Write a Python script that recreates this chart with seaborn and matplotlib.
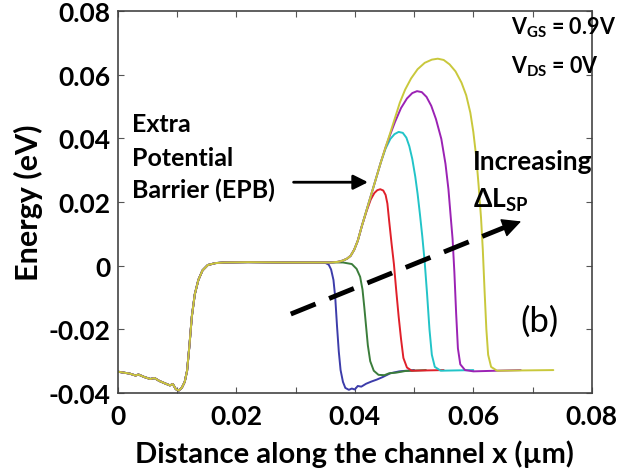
import matplotlib
matplotlib.use("Agg")
import matplotlib.pyplot as plt
import numpy as np
import pandas as pd
import seaborn as sns

# shared source side (x in um, energy in eV)
left_x = [0.0, 0.0010, 0.0020, 0.0030, 0.0035, 0.0045, 0.0055, 0.0062, 0.0070, 0.0080,
          0.0088, 0.0093, 0.0098, 0.0103, 0.0108, 0.0113, 0.0117, 0.0121, 0.0125, 0.0130,
          0.0136, 0.0143, 0.0152, 0.0165, 0.0180, 0.0220, 0.0280, 0.0330]
left_y = [-0.0333, -0.0336, -0.0339, -0.0345, -0.0342, -0.0350, -0.0356, -0.0353, -0.0362, -0.0370,
          -0.0376, -0.0372, -0.0388, -0.0392, -0.0384, -0.0365, -0.0330, -0.0250, -0.0160, -0.0090,
          -0.0045, -0.0015, 0.0002, 0.0008, 0.0010, 0.0011, 0.0010, 0.0010]

# rising edge shared by the barrier curves
rise_x = [0.0360, 0.0372, 0.0380, 0.0387, 0.0393, 0.0399, 0.0405, 0.0412]
rise_y = [0.0010, 0.0012, 0.0016, 0.0022, 0.0031, 0.0050, 0.0078, 0.0125]

blue_x = [0.0350, 0.0356, 0.0360, 0.0364, 0.0367, 0.0370, 0.0373, 0.0376, 0.0380, 0.0384,
          0.0390, 0.0395, 0.0400, 0.0405, 0.0411, 0.0419, 0.0428, 0.0437, 0.0447, 0.0460,
          0.0475, 0.0500]
blue_y = [0.0009, 0.0003, -0.0012, -0.0045, -0.0100, -0.0190, -0.0270, -0.0328, -0.0365, -0.0384,
          -0.0390, -0.0386, -0.0389, -0.0378, -0.0380, -0.0371, -0.0364, -0.0358, -0.0350, -0.0338,
          -0.0332, -0.0328]

green_x = [0.0380, 0.0395, 0.0403, 0.0409, 0.0413, 0.0416, 0.0419, 0.0422, 0.0426, 0.0432,
           0.0440, 0.0450, 0.0458, 0.0470, 0.0485, 0.0520]
green_y = [0.0010, 0.0005, -0.0010, -0.0035, -0.0075, -0.0130, -0.0190, -0.0250, -0.0300, -0.0330,
           -0.0343, -0.0344, -0.0338, -0.0336, -0.0331, -0.0328]

red_x = [0.0420, 0.0427, 0.0433, 0.0438, 0.0443, 0.0448, 0.0452, 0.0455, 0.0458, 0.0462,
         0.0466, 0.0470, 0.0474, 0.0478, 0.0482, 0.0488, 0.0496, 0.0550]
red_y = [0.0172, 0.0208, 0.0228, 0.0237, 0.0240, 0.0236, 0.0222, 0.0195, 0.0140, 0.0070,
         0.0005, -0.0080, -0.0160, -0.0230, -0.0290, -0.0320, -0.0330, -0.0328]

cyan_x = [0.0420, 0.0428, 0.0436, 0.0444, 0.0452, 0.0460, 0.0467, 0.0474, 0.0481, 0.0487,
          0.0492, 0.0497, 0.0502, 0.0506, 0.0510, 0.0514, 0.0518, 0.0522, 0.0526, 0.0530,
          0.0535, 0.0545, 0.0600]
cyan_y = [0.0175, 0.0225, 0.0275, 0.0325, 0.0368, 0.0398, 0.0413, 0.0420, 0.0417, 0.0402,
          0.0375, 0.0335, 0.0280, 0.0225, 0.0160, 0.0090, 0.0010, -0.0090, -0.0200, -0.0280,
          -0.0318, -0.0330, -0.0328]

magenta_x = [0.0420, 0.0428, 0.0436, 0.0444, 0.0452, 0.0460, 0.0468, 0.0478, 0.0488, 0.0497,
             0.0505, 0.0513, 0.0521, 0.0529, 0.0537, 0.0546, 0.0553, 0.0558, 0.0562, 0.0565,
             0.0568, 0.0571, 0.0574, 0.0578, 0.0586, 0.0600, 0.0680]
magenta_y = [0.0175, 0.0225, 0.0275, 0.0325, 0.0372, 0.0413, 0.0452, 0.0495, 0.0525, 0.0542,
             0.0548, 0.0545, 0.0530, 0.0502, 0.0460, 0.0398, 0.0320, 0.0240, 0.0150, 0.0084,
             -0.0020, -0.0150, -0.0260, -0.0310, -0.0328, -0.0332, -0.0328]

yellow_x = [0.0420, 0.0428, 0.0436, 0.0444, 0.0452, 0.0460, 0.0468, 0.0476, 0.0485, 0.0495,
            0.0506, 0.0518, 0.0530, 0.0540, 0.0550, 0.0560, 0.0570, 0.0580, 0.0588, 0.0595,
            0.0600, 0.0605, 0.0609, 0.0613, 0.0616, 0.0619, 0.0622, 0.0625, 0.0630, 0.0640,
            0.0735]
yellow_y = [0.0175, 0.0225, 0.0275, 0.0325, 0.0372, 0.0418, 0.0465, 0.0512, 0.0553, 0.0588,
            0.0617, 0.0637, 0.0647, 0.0650, 0.0646, 0.0632, 0.0610, 0.0575, 0.0535, 0.0480,
            0.0420, 0.0340, 0.0250, 0.0150, 0.0050, -0.0080, -0.0200, -0.0280, -0.0318, -0.0330,
            -0.0328]

curve_order = ["blue", "green", "red", "cyan", "magenta", "yellow"]
curve_colors = {"yellow": "#c9c83c", "magenta": "#9b22b4", "cyan": "#22c4c8",
                "red": "#e0202a", "green": "#3b7d3b", "blue": "#3c3caa"}

x_ticks = [0, 0.01, 0.02, 0.03, 0.04, 0.05, 0.06, 0.07, 0.08]
x_ticklabels = ["0", "", "0.02", "", "0.04", "", "0.06", "", "0.08"]
y_ticks = [-0.04, -0.02, 0, 0.02, 0.04, 0.06, 0.08]
y_ticklabels = ["-0.04", "-0.02", "0", "0.02", "0.04", "0.06", "0.08"]

# assemble each curve: source side + its own drain-side part
pieces = {
    "blue": (left_x + blue_x, left_y + blue_y),
    "green": (left_x + green_x, left_y + green_y),
    "red": (left_x + rise_x + red_x, left_y + rise_y + red_y),
    "cyan": (left_x + rise_x + cyan_x, left_y + rise_y + cyan_y),
    "magenta": (left_x + rise_x + magenta_x, left_y + rise_y + magenta_y),
    "yellow": (left_x + rise_x + yellow_x, left_y + rise_y + yellow_y),
}
rows = []
for name in curve_order:
    xs, ys = pieces[name]
    for xv, yv in zip(xs, ys):
        rows.append({"x": xv, "y": yv, "curve": name})
df = pd.DataFrame(rows)

sns.set_theme(style="ticks")
plt.rcParams["font.family"] = ["Lato", "DejaVu Sans"]
plt.rcParams["mathtext.fontset"] = "custom"
plt.rcParams["mathtext.bf"] = "Lato:bold"
plt.rcParams["mathtext.rm"] = "Lato"
plt.rcParams["text.color"] = "black"
plt.rcParams["axes.labelcolor"] = "black"

fig = plt.figure(figsize=(6.23, 4.77), dpi=100)
ax = fig.add_axes([0.189, 0.174, 0.761, 0.801])

sns.lineplot(data=df, x="x", y="y", hue="curve", hue_order=curve_order,
             palette=curve_colors, sort=False, estimator=None, units="curve",
             legend=False, lw=1.4, ax=ax)

ax.set_xlim(0, 0.08)
ax.set_ylim(-0.04, 0.08)
ax.set_xticks(x_ticks)
ax.set_xticklabels(x_ticklabels)
ax.set_yticks(y_ticks)
ax.set_yticklabels(y_ticklabels)
ax.tick_params(direction="in", length=4, width=0.8, color="#555555", labelcolor="black",
               top=True, right=True, labelsize=19, pad=5)
ax.tick_params(axis="x", pad=8)
for lab in ax.get_xticklabels() + ax.get_yticklabels():
    lab.set_fontweight("bold")
for sp in ax.spines.values():
    sp.set_color("#444444")
    sp.set_linewidth(1.2)

ax.set_xlabel("Distance along the channel x (\u00b5m)", fontsize=21, fontweight="bold", labelpad=8)
ax.set_ylabel("Energy (eV)", fontsize=22, fontweight="bold", labelpad=4)

# annotations
for txt, yy in [("Extra", 0.0445), ("Potential", 0.0341), ("Barrier (EPB)", 0.0241)]:
    ax.text(0.0024, yy, txt, fontsize=18, fontweight="bold", va="center", ha="left")
ax.annotate("", xy=(0.0427, 0.0262), xytext=(0.0292, 0.0262),
            arrowprops=dict(arrowstyle="-|>", lw=2, color="black", mutation_scale=22))
ax.text(0.0664, 0.0752, r"V$_{\mathbf{GS}}$ = 0.9V", fontsize=15.5, fontweight="bold",
        va="center", ha="left")
ax.text(0.0664, 0.0628, r"V$_{\mathbf{DS}}$ = 0V", fontsize=15.5, fontweight="bold",
        va="center", ha="left")
ax.text(0.0600, 0.0329, "Increasing", fontsize=19, fontweight="bold", va="center", ha="left")
ax.text(0.0600, 0.0209, "\u0394L$_{\\mathbf{SP}}$", fontsize=19,
        fontweight="bold", va="center", ha="left")
ax.text(0.0679, -0.0174, "(b)", fontsize=25, va="center", ha="left")

ax.plot([0.0292, 0.0655], [-0.0152, 0.0122], color="black", lw=3.5,
        linestyle=(0, (5.5, 3)), solid_capstyle="butt", dash_capstyle="butt")
ax.annotate("", xy=(0.0685, 0.0142), xytext=(0.0650, 0.0118),
            arrowprops=dict(arrowstyle="-|>", lw=1, color="black", mutation_scale=30))

fig.savefig("out.png", dpi=100)
